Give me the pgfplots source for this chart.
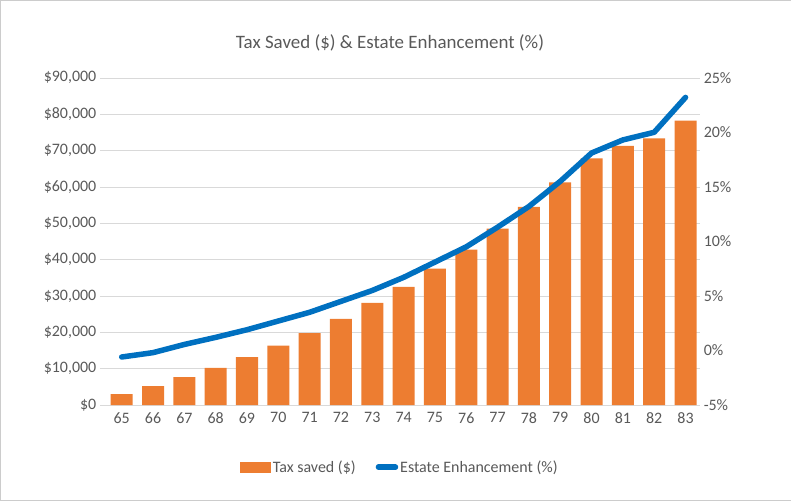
\documentclass[border=0pt]{standalone}
\usepackage{pgfplots}
\pgfplotsset{compat=1.18}
\usepackage{fontspec}
\setmainfont{Carlito}
\definecolor{org}{HTML}{ED7D31}
\definecolor{blu}{HTML}{0070C0}
\definecolor{txt}{HTML}{595959}
\begin{document}
\begin{tikzpicture}[x=1bp,y=1bp]
\draw[draw=gray!40] (0.5,0.5) rectangle (790.5,500.5);
\node[txt,font=\fontsize{19}{22}\selectfont] at (390,458) {Tax Saved (\$) \& Estate Enhancement (\%)};
\begin{axis}[at={(100bp,96bp)},anchor=south west,scale only axis,width=600bp,height=327bp,
  xmin=64.3,xmax=83.47,ymin=0,ymax=90000,
  xtick={65,...,83},ytick={0,10000,...,90000},
  yticklabel={\$\pgfmathprintnumber[assume math mode=true,1000 sep={,}]{\tick}},
  scaled y ticks=false,
  axis line style={draw=none},tick style={draw=none},
  ymajorgrids,grid style={draw=gray!30},
  ticklabel style={font=\fontsize{16}{18}\selectfont,text=txt},
  /pgf/number format/assume math mode=true,
  xticklabel style={yshift=-4bp},
  ]
\addplot[ybar,bar width=22bp,fill=org,draw=none] coordinates {
(65,3000)(66,5200)(67,7700)(68,10200)(69,13200)(70,16300)(71,19800)(72,23700)(73,28100)(74,32500)(75,37500)(76,42700)(77,48500)(78,54500)(79,61200)(80,67800)(81,71300)(82,73300)(83,78200)};
\end{axis}
\begin{axis}[at={(100bp,96bp)},anchor=south west,scale only axis,width=600bp,height=327bp,
  xmin=64.3,xmax=83.47,ymin=-5,ymax=25,
  axis y line*=right,axis x line=none,
  ytick={-5,0,...,25},yticklabel={\pgfmathprintnumber[assume math mode=true]{\tick}\%},
  axis line style={draw=none},tick style={draw=none},
  ticklabel style={font=\fontsize{16}{18}\selectfont,text=txt},
  legend style={at={(0.5,-0.19)},anchor=center,draw=none,legend columns=2,
    font=\fontsize{16}{18}\selectfont,text=txt,/tikz/every even column/.append style={column sep=18bp}},
  ]
\addlegendimage{legend image code/.code={\fill[org] (0bp,-5bp) rectangle (30bp,5bp);}}
\addlegendentry{Tax saved (\$)}
\addplot[blu,line width=5.5bp,line join=round,line cap=round] coordinates {
(65,-0.6)(66,-0.2)(67,0.55)(68,1.2)(69,1.9)(70,2.7)(71,3.5)(72,4.5)(73,5.5)(74,6.7)(75,8.1)(76,9.5)(77,11.3)(78,13.2)(79,15.5)(80,18.1)(81,19.3)(82,20)(83,23.2)};
\addlegendentry{Estate Enhancement (\%)}
\end{axis}
\end{tikzpicture}
\end{document}
